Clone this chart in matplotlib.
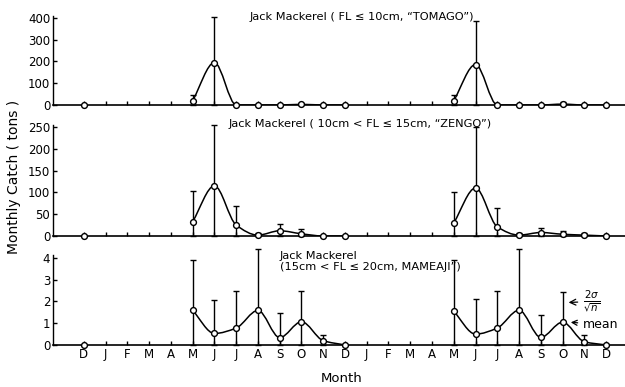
import numpy as np
import matplotlib
matplotlib.use("Agg")
import matplotlib.pyplot as plt
from matplotlib.path import Path
from matplotlib.patches import PathPatch

months = ["D", "J", "F", "M", "A", "M", "J", "J", "A", "S", "O", "N", "D",
          "J", "F", "M", "A", "M", "J", "J", "A", "S", "O", "N", "D"]
nan = np.nan

# mean monthly catch (tons), NaN = no data (Jan-Apr)
tomago_mean = [0, nan, nan, nan, nan, 20, 195, 0, 0, 0, 3, 0, 0,
               nan, nan, nan, nan, 20, 186, 0, 0, 0, 4, 0, 0]
tomago_err = [0, nan, nan, nan, nan, 25, 210, 0, 0, 0, 6, 0, 0,
              nan, nan, nan, nan, 25, 200, 0, 0, 0, 8, 0, 0]

zengo_mean = [0, nan, nan, nan, nan, 33, 115, 25, 2, 12, 5, 0, 0,
              nan, nan, nan, nan, 30, 110, 21, 2, 8, 4, 2, 0]
zengo_err = [0, nan, nan, nan, nan, 71, 140, 44, 6, 15, 10, 0, 0,
             nan, nan, nan, nan, 72, 140, 44, 4, 10, 7, 5, 0]

mameaji_mean = [0, nan, nan, nan, nan, 1.59, 0.53, 0.78, 1.59, 0.34, 1.07, 0.2, 0,
                nan, nan, nan, nan, 1.55, 0.5, 0.78, 1.6, 0.35, 1.05, 0.15, 0]
mameaji_err = [0, nan, nan, nan, nan, 2.33, 1.56, 1.70, 2.83, 1.14, 1.41, 0.25, 0,
               nan, nan, nan, nan, 2.35, 1.6, 1.72, 2.8, 1.05, 1.4, 0.3, 0]

titles = ['Jack Mackerel ( FL \u2264 10cm, \u201cTOMAGO\u201d)',
          'Jack Mackerel ( 10cm < FL \u2264 15cm, \u201cZENGO\u201d)',
          'Jack Mackerel\n(15cm < FL \u2264 20cm, MAMEAJI\u201d)']

plt.rcParams["font.family"] = "DejaVu Sans"
plt.rcParams["font.size"] = 8


def smooth_path(x, y):
    # monotone cubic (Fritsch-Carlson) drawn as bezier segments
    x = np.asarray(x, float)
    y = np.asarray(y, float)
    d = np.diff(y) / np.diff(x)
    m = np.zeros_like(y)
    m[0], m[-1] = d[0], d[-1]
    for k in range(1, len(y) - 1):
        if d[k - 1] * d[k] > 0:
            m[k] = 2.0 / (1.0 / d[k - 1] + 1.0 / d[k])
    verts = [(x[0], y[0])]
    codes = [Path.MOVETO]
    for k in range(len(x) - 1):
        h = x[k + 1] - x[k]
        verts += [(x[k] + h / 3, y[k] + m[k] * h / 3),
                  (x[k + 1] - h / 3, y[k + 1] - m[k + 1] * h / 3),
                  (x[k + 1], y[k + 1])]
        codes += [Path.CURVE4] * 3
    return Path(verts, codes)


fig = plt.figure(figsize=(6.25, 3.87), dpi=100)
left, width = 0.0848, 0.9152
panels = [
    (tomago_mean, tomago_err, [0.7287, 0.2305], 410, np.arange(0, 401, 100)),
    (zengo_mean, zengo_err, [0.3902, 0.2873], 255, np.arange(0, 251, 50)),
    (mameaji_mean, mameaji_err, [0.1085, 0.2333], 4.15, np.arange(0, 5, 1)),
]
title_pos = [(0.400, 0.956), (0.365, 0.680), (0.448, 0.325)]

x = np.arange(len(months))
axes = []
for i, (mean, err, (bot, h), ytop, yt) in enumerate(panels):
    ax = fig.add_axes([left, bot, width, h])
    axes.append(ax)
    mean = np.array(mean, float)
    err = np.array(err, float)
    ok = ~np.isnan(mean)

    for seg in [(5, 13), (17, 25)]:
        xs = x[seg[0]:seg[1]]
        ys = mean[seg[0]:seg[1]]
        ax.add_patch(PathPatch(smooth_path(xs, ys), fill=False, lw=1.1,
                               ec="black", zorder=3))

    has_err = ok & (err > 0)
    lower = np.minimum(mean[has_err], err[has_err])
    ax.errorbar(x[has_err], mean[has_err], yerr=[lower, err[has_err]],
                fmt="none", ecolor="black", elinewidth=1.0, capsize=2.5,
                capthick=1.0, clip_on=False, zorder=2)
    ax.plot(x[ok], mean[ok], "o", ms=4.2, mfc="white", mec="black",
            mew=1.0, zorder=4, clip_on=False)

    ax.set_xlim(-1.42, 24.87)
    ax.set_ylim(0, ytop)
    ax.set_yticks(yt)
    ax.set_xticks(x)
    for s in ["top", "right"]:
        ax.spines[s].set_visible(False)
    ax.spines["left"].set_linewidth(1.0)
    ax.spines["bottom"].set_linewidth(1.2)
    ax.tick_params(direction="in", length=3, width=1.0, pad=2, labelsize=8.5)
    if i < 2:
        ax.tick_params(axis="x", labelbottom=False)
    else:
        ax.set_xticklabels(months)
        ax.tick_params(axis="x", pad=2.5, labelsize=8.5)
    fig.text(title_pos[i][0], title_pos[i][1], titles[i], fontsize=8.2,
             ha="left", va="center", linespacing=1.1)

ax3 = axes[2]
ax3.annotate(r"$\frac{2\sigma}{\sqrt{n}}$", xy=(22.15, 1.95), xytext=(22.95, 2.0),
             ha="left", va="center", fontsize=10.5,
             arrowprops=dict(arrowstyle="->", color="black", lw=0.9))
ax3.annotate("mean", xy=(22.25, 1.05), xytext=(22.95, 0.95),
             ha="left", va="center", fontsize=9,
             arrowprops=dict(arrowstyle="->", color="black", lw=0.9))

fig.text(0.022, 0.543, "Monthly Catch ( tons )", rotation=90, ha="center",
         va="center", fontsize=10)
fig.text(0.547, 0.023, "Month", ha="center", va="center", fontsize=9.5)

fig.savefig("out.png", dpi=100)
